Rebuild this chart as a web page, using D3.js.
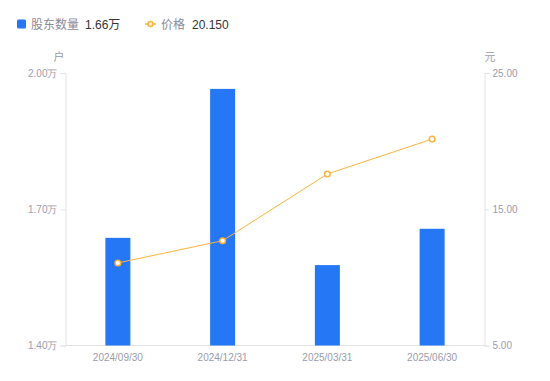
<!DOCTYPE html>
<html><head><meta charset="utf-8">
<script src="https://cdn.jsdelivr.net/npm/d3@7"></script>
<style>body{margin:0;background:#fff;}svg{display:block;font-family:"Liberation Sans",Arial,"Noto Sans CJK SC",sans-serif;}</style>
</head><body><svg id="c" width="550" height="381"></svg>
<script>
const categories = ["2024/09/30","2024/12/31","2025/03/31","2025/06/30"];
const holders = [1.637, 1.965, 1.577, 1.657]; // 万户
const prices = [11.06, 12.69, 17.59, 20.15];
const leftTicks = [1.40, 1.70, 2.00];
const rightTicks = [5, 15, 25];
const legendHolders = "1.66万";
const legendPrice = "20.150";

const svg = d3.select("#c");
const m = {l:65.5, r:484.5, t:73, b:345.5};
const x = d3.scaleBand().domain(categories).range([m.l, m.r]);
const yL = d3.scaleLinear().domain([1.40, 2.00]).range([m.b, m.t]);
const yR = d3.scaleLinear().domain([5, 25]).range([m.b, m.t]);
const axisColor = "#e3e3e6", textColor = "#9b9bab";

// axes
const gL = svg.append("g").attr("transform",`translate(${m.l},0)`)
  .call(d3.axisLeft(yL).tickValues(leftTicks).tickSize(5).tickPadding(3).tickFormat(d=>d.toFixed(2)+"万"));
const gR = svg.append("g").attr("transform",`translate(${m.r},0)`)
  .call(d3.axisRight(yR).tickValues(rightTicks).tickSize(5).tickPadding(3).tickFormat(d=>d.toFixed(2)));
const gX = svg.append("g").attr("transform",`translate(0,${m.b})`)
  .call(d3.axisBottom(x).tickSize(0).tickPadding(8));
[gL,gR,gX].forEach(g=>{
  g.selectAll("path,line").attr("stroke",axisColor);
  g.selectAll("text").attr("fill",textColor).style("font-size","10px");
});
gX.select("path").attr("d",`M${m.l},0H${m.r}`);

svg.append("text").attr("x",59).attr("y",61).attr("text-anchor","middle").attr("fill",textColor).style("font-size","11px").text("户");
svg.append("text").attr("x",490).attr("y",61).attr("text-anchor","middle").attr("fill",textColor).style("font-size","11px").text("元");

// bars
const bw = 25;
svg.selectAll("rect.bar").data(holders).join("rect").attr("class","bar")
  .attr("x",(d,i)=>x(categories[i])+x.bandwidth()/2-bw/2)
  .attr("y",d=>yL(d)).attr("width",bw).attr("height",d=>m.b-yL(d))
  .attr("fill","#2577f5");

// line
const line = d3.line().x((d,i)=>x(categories[i])+x.bandwidth()/2).y(d=>yR(d));
svg.append("path").datum(prices).attr("d",line).attr("fill","none").attr("stroke","#fbb33c").attr("stroke-width",1);
svg.selectAll("circle.pt").data(prices).join("circle").attr("class","pt")
  .attr("cx",(d,i)=>x(categories[i])+x.bandwidth()/2).attr("cy",d=>yR(d)).attr("r",2.8)
  .attr("fill","#fff").attr("stroke","#fbb33c").attr("stroke-width",1.5);

// legend
const lg = svg.append("g");
lg.append("rect").attr("x",17).attr("y",19.5).attr("width",9).attr("height",9).attr("rx",1.5).attr("fill","#2577f5");
lg.append("text").attr("x",31).attr("y",29).attr("fill","#8a8a99").style("font-size","12px").text("股东数量");
lg.append("text").attr("x",85).attr("y",29).attr("fill","#333").style("font-size","12px").text(legendHolders);
lg.append("line").attr("x1",145).attr("x2",156).attr("y1",24).attr("y2",24).attr("stroke","#fbb33c").attr("stroke-width",1.5);
lg.append("circle").attr("cx",150.5).attr("cy",24).attr("r",2.5).attr("fill","#fff").attr("stroke","#fbb33c").attr("stroke-width",1.5);
lg.append("text").attr("x",161).attr("y",29).attr("fill","#8a8a99").style("font-size","12px").text("价格");
lg.append("text").attr("x",192).attr("y",29).attr("fill","#333").style("font-size","12px").text(legendPrice);
</script></body></html>
